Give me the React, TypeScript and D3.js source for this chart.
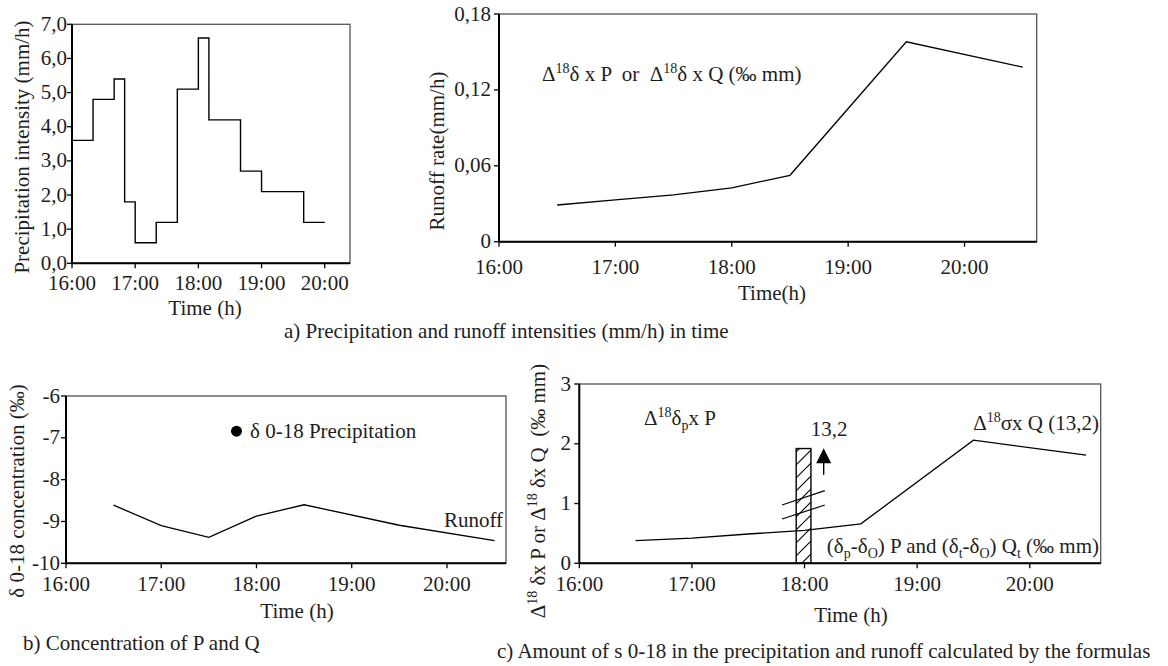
import React from 'react';
import * as d3 from 'd3';

// ---------- shared ----------
const timeTicks = [16, 17, 18, 19, 20];
const timeTickLabels = ['16:00', '17:00', '18:00', '19:00', '20:00'];

// ---------- a) left: precipitation intensity (step) ----------
const precipStepEdges = [16, 16.333, 16.667, 16.833, 17, 17.333, 17.667, 18, 18.167, 18.667, 19, 19.667, 20];
const precipIntensity = [3.6, 4.8, 5.4, 1.8, 0.6, 1.2, 5.1, 6.6, 4.2, 2.7, 2.1, 1.2];
const precipTicks = [0, 1, 2, 3, 4, 5, 6, 7];
const precipTickLabels = ['0,0', '1,0', '2,0', '3,0', '4,0', '5,0', '6,0', '7,0'];

// ---------- a) right: runoff rate ----------
const runoffTimes = [16.5, 17, 17.5, 18, 18.5, 19.5, 20.5];
const runoffRate = [0.029, 0.033, 0.037, 0.0425, 0.0525, 0.158, 0.138];
const runoffTicks = [0, 0.06, 0.12, 0.18];
const runoffTickLabels = ['0', '0,06', '0,12', '0,18'];

// ---------- b) concentration ----------
const runoffDelta = [-8.61, -9.1, -9.38, -8.87, -8.6, -9.09, -9.46];
const precipDeltaTime = [17.79];
const precipDelta = [-6.84];
const concTicks = [-10, -9, -8, -7, -6];
const concTickLabels = ['-10', '-9', '-8', '-7', '-6'];

// ---------- c) amount ----------
const amountQ = [0.38, 0.42, 0.49, 0.55, 0.66, 2.06, 1.81];
const amountTicks = [0, 1, 2, 3];
const amountTickLabels = ['0', '1', '2', '3'];
const offscaleBarStart = [17.926];
const offscaleBarEnd = [18.057];
const offscaleBarShown = [1.92];
const offscaleBarLabel = ['13,2'];
const breakMarkX = [17.8, 18.18];
const breakMarkY1 = [0.975, 1.215];
const breakMarkY2 = [0.741, 0.975];
const arrowX = [18.17];
const arrowY = [1.48, 1.925];

const FONT = '"Liberation Serif", "Times New Roman", Times, serif';
const TXT = '#1e1e1e';

type Lin = d3.ScaleLinear<number, number>;
type Seg = [string, 'n' | 'sup' | 'sub'];

function rich(segs: Seg[]) {
  let cur = 0;
  return segs.map(([t, m], i) => {
    const target = m === 'sup' ? -8 : m === 'sub' ? 5 : 0;
    const dy = target - cur;
    cur = target;
    return (
      <tspan key={i} dy={dy} fontSize={m === 'n' ? 21 : 14}>{t}</tspan>
    );
  });
}

function Frame(props: {
  xs: Lin; ys: Lin; xTicks: number[]; xLabels: string[]; yTicks: number[]; yLabels: string[];
  xLabelY: number; yLabelX: number;
}) {
  const { xs, ys, xTicks, xLabels, yTicks, yLabels, xLabelY, yLabelX } = props;
  const [x0, x1] = xs.range();
  const [yb, yt] = ys.range();
  return (
    <g>
      <rect x={x0} y={yt} width={x1 - x0} height={yb - yt} fill="none" stroke="#555" strokeWidth={1.3} />
      <line x1={x0} y1={yt} x2={x0} y2={yb} stroke="#000" strokeWidth={2} />
      <line x1={x0} y1={yb} x2={x1} y2={yb} stroke="#000" strokeWidth={2} />
      {xTicks.map((t, i) => (
        <g key={'x' + i}>
          <line x1={xs(t)} x2={xs(t)} y1={yb} y2={yb + 5} stroke="#000" strokeWidth={1.3} />
          <text x={xs(t)} y={xLabelY} textAnchor="middle">{xLabels[i]}</text>
        </g>
      ))}
      {yTicks.map((t, i) => (
        <g key={'y' + i}>
          <line x1={x0 - 5} x2={x0} y1={ys(t)} y2={ys(t)} stroke="#000" strokeWidth={1.3} />
          <text x={yLabelX} y={ys(t) + 6.5} textAnchor="end">{yLabels[i]}</text>
        </g>
      ))}
    </g>
  );
}

export default function App() {
  // a-left
  const xa1 = d3.scaleLinear().domain([16, 20.4]).range([72, 350]);
  const ya1 = d3.scaleLinear().domain([0, 7]).range([263.3, 24.3]);
  const stepPts: [number, number][] = precipStepEdges.map((e, i) => [e, precipIntensity[Math.min(i, precipIntensity.length - 1)]]);
  const stepLine = d3.line<[number, number]>().x(d => xa1(d[0])).y(d => ya1(d[1])).curve(d3.curveStepAfter);

  // a-right
  const xa2 = d3.scaleLinear().domain([16, 20.62]).range([499, 1036.7]);
  const ya2 = d3.scaleLinear().domain([0, 0.18]).range([241.7, 14]);
  const runLine = d3.line<number>().x((_, i) => xa2(runoffTimes[i])).y(d => ya2(d));

  // b
  const xb = d3.scaleLinear().domain([16, 20.62]).range([66, 506]);
  const yb = d3.scaleLinear().domain([-10, -6]).range([563.3, 396]);
  const concLine = d3.line<number>().x((_, i) => xb(runoffTimes[i])).y(d => yb(d));

  // c
  const xc = d3.scaleLinear().domain([16, 20.63]).range([579.3, 1100.7]);
  const yc = d3.scaleLinear().domain([0, 3]).range([563.3, 384]);
  const amtLine = d3.line<number>().x((_, i) => xc(runoffTimes[i])).y(d => yc(d));

  const barX0 = xc(offscaleBarStart[0]);
  const barX1 = xc(offscaleBarEnd[0]);
  const barTop = yc(offscaleBarShown[0]);
  const ax = xc(arrowX[0]);
  const aTail = yc(arrowY[0]);
  const aTip = yc(arrowY[1]);

  return (
    <svg width={1168} height={666} style={{ position: 'absolute', left: 0, top: 0, background: '#fff' }}
      fontFamily={FONT} fontSize={21} fill={TXT}>
      <defs>
        <pattern id="hatch" patternUnits="userSpaceOnUse" width={13} height={13}>
          <path d="M-2,2 L2,-2 M0,13 L13,0 M11,15 L15,11" stroke="#000" strokeWidth={1.1} />
        </pattern>
      </defs>
      <rect x={0} y={0} width={1168} height={666} fill="#fff" />

      {/* ===== a-left ===== */}
      <Frame xs={xa1} ys={ya1} xTicks={timeTicks} xLabels={timeTickLabels} yTicks={precipTicks}
        yLabels={precipTickLabels} xLabelY={290} yLabelX={67} />
      <path d={stepLine(stepPts) || ''} fill="none" stroke="#000" strokeWidth={1.4} />
      <text transform="translate(29,147) rotate(-90)" textAnchor="middle">Precipitation intensity (mm/h)</text>
      <text x={205} y={315} textAnchor="middle">Time (h)</text>

      {/* ===== a-right ===== */}
      <Frame xs={xa2} ys={ya2} xTicks={timeTicks} xLabels={timeTickLabels} yTicks={runoffTicks}
        yLabels={runoffTickLabels} xLabelY={274} yLabelX={491} />
      <path d={runLine(runoffRate) || ''} fill="none" stroke="#000" strokeWidth={1.3} />
      <text transform="translate(444,151) rotate(-90)" textAnchor="middle">Runoff rate(mm/h)</text>
      <text x={772} y={300} textAnchor="middle">Time(h)</text>
      <text x={542} y={81} xmlSpace="preserve" style={{ whiteSpace: 'pre' }}>
        {rich([['Δ', 'n'], ['18', 'sup'], ['δ x P  or  Δ', 'n'], ['18', 'sup'], ['δ x Q (‰ mm)', 'n']])}
      </text>

      <text x={284} y={338}>a) Precipitation and runoff intensities (mm/h) in time</text>

      {/* ===== b ===== */}
      <Frame xs={xb} ys={yb} xTicks={timeTicks} xLabels={timeTickLabels} yTicks={concTicks}
        yLabels={concTickLabels} xLabelY={591} yLabelX={60} />
      <path d={concLine(runoffDelta) || ''} fill="none" stroke="#000" strokeWidth={1.3} />
      {precipDelta.map((v, i) => (
        <circle key={i} cx={xb(precipDeltaTime[i])} cy={yb(v)} r={5.5} fill="#000" />
      ))}
      <text x={250} y={438}>δ 0-18 Precipitation</text>
      <text x={503} y={527} textAnchor="end">Runoff</text>
      <text transform="translate(24,491) rotate(-90)" textAnchor="middle">δ 0-18 concentration (‰)</text>
      <text x={297} y={618} textAnchor="middle">Time (h)</text>
      <text x={23} y={650}>b) Concentration of P and Q</text>

      {/* ===== c ===== */}
      <Frame xs={xc} ys={yc} xTicks={timeTicks} xLabels={timeTickLabels} yTicks={amountTicks}
        yLabels={amountTickLabels} xLabelY={591} yLabelX={571} />
      <path d={amtLine(amountQ) || ''} fill="none" stroke="#000" strokeWidth={1.3} />
      <rect x={barX0} y={barTop} width={barX1 - barX0} height={yc(0) - barTop} fill="url(#hatch)" stroke="#000" strokeWidth={1.4} />
      <line x1={xc(breakMarkX[0])} y1={yc(breakMarkY1[0])} x2={xc(breakMarkX[1])} y2={yc(breakMarkY1[1])} stroke="#000" strokeWidth={1.2} />
      <line x1={xc(breakMarkX[0])} y1={yc(breakMarkY2[0])} x2={xc(breakMarkX[1])} y2={yc(breakMarkY2[1])} stroke="#000" strokeWidth={1.2} />
      <line x1={ax} y1={aTail} x2={ax} y2={aTip + 12} stroke="#000" strokeWidth={1.4} />
      <path d={`M${ax - 7.5},${aTip + 15} L${ax},${aTip} L${ax + 7.5},${aTip + 15} Z`} fill="#000" />
      <text x={829} y={436} textAnchor="middle">{offscaleBarLabel[0]}</text>
      <text x={644} y={425}>
        {rich([['Δ', 'n'], ['18', 'sup'], ['δ', 'n'], ['p', 'sub'], ['x P', 'n']])}
      </text>
      <text x={1099} y={430} textAnchor="end">
        {rich([['Δ', 'n'], ['18', 'sup'], ['σx Q (13,2)', 'n']])}
      </text>
      <text x={1099} y={553} textAnchor="end">
        {rich([['(δ', 'n'], ['p', 'sub'], ['-δ', 'n'], ['O', 'sub'], [') P and (δ', 'n'], ['t', 'sub'], ['-δ', 'n'], ['O', 'sub'], [') Q', 'n'], ['t', 'sub'], [' (‰ mm)', 'n']])}
      </text>
      <text transform="translate(545,491) rotate(-90)" textAnchor="middle" xmlSpace="preserve" style={{ whiteSpace: 'pre' }}>
        {rich([['Δ', 'n'], ['18', 'sup'], [' δx P or Δ', 'n'], ['18', 'sup'], [' δx Q  (‰ mm)', 'n']])}
      </text>
      <text x={851} y={622} textAnchor="middle">Time (h)</text>
      <text x={497} y={658}>c) Amount of s 0-18 in the precipitation and runoff calculated by the formulas</text>
    </svg>
  );
}
